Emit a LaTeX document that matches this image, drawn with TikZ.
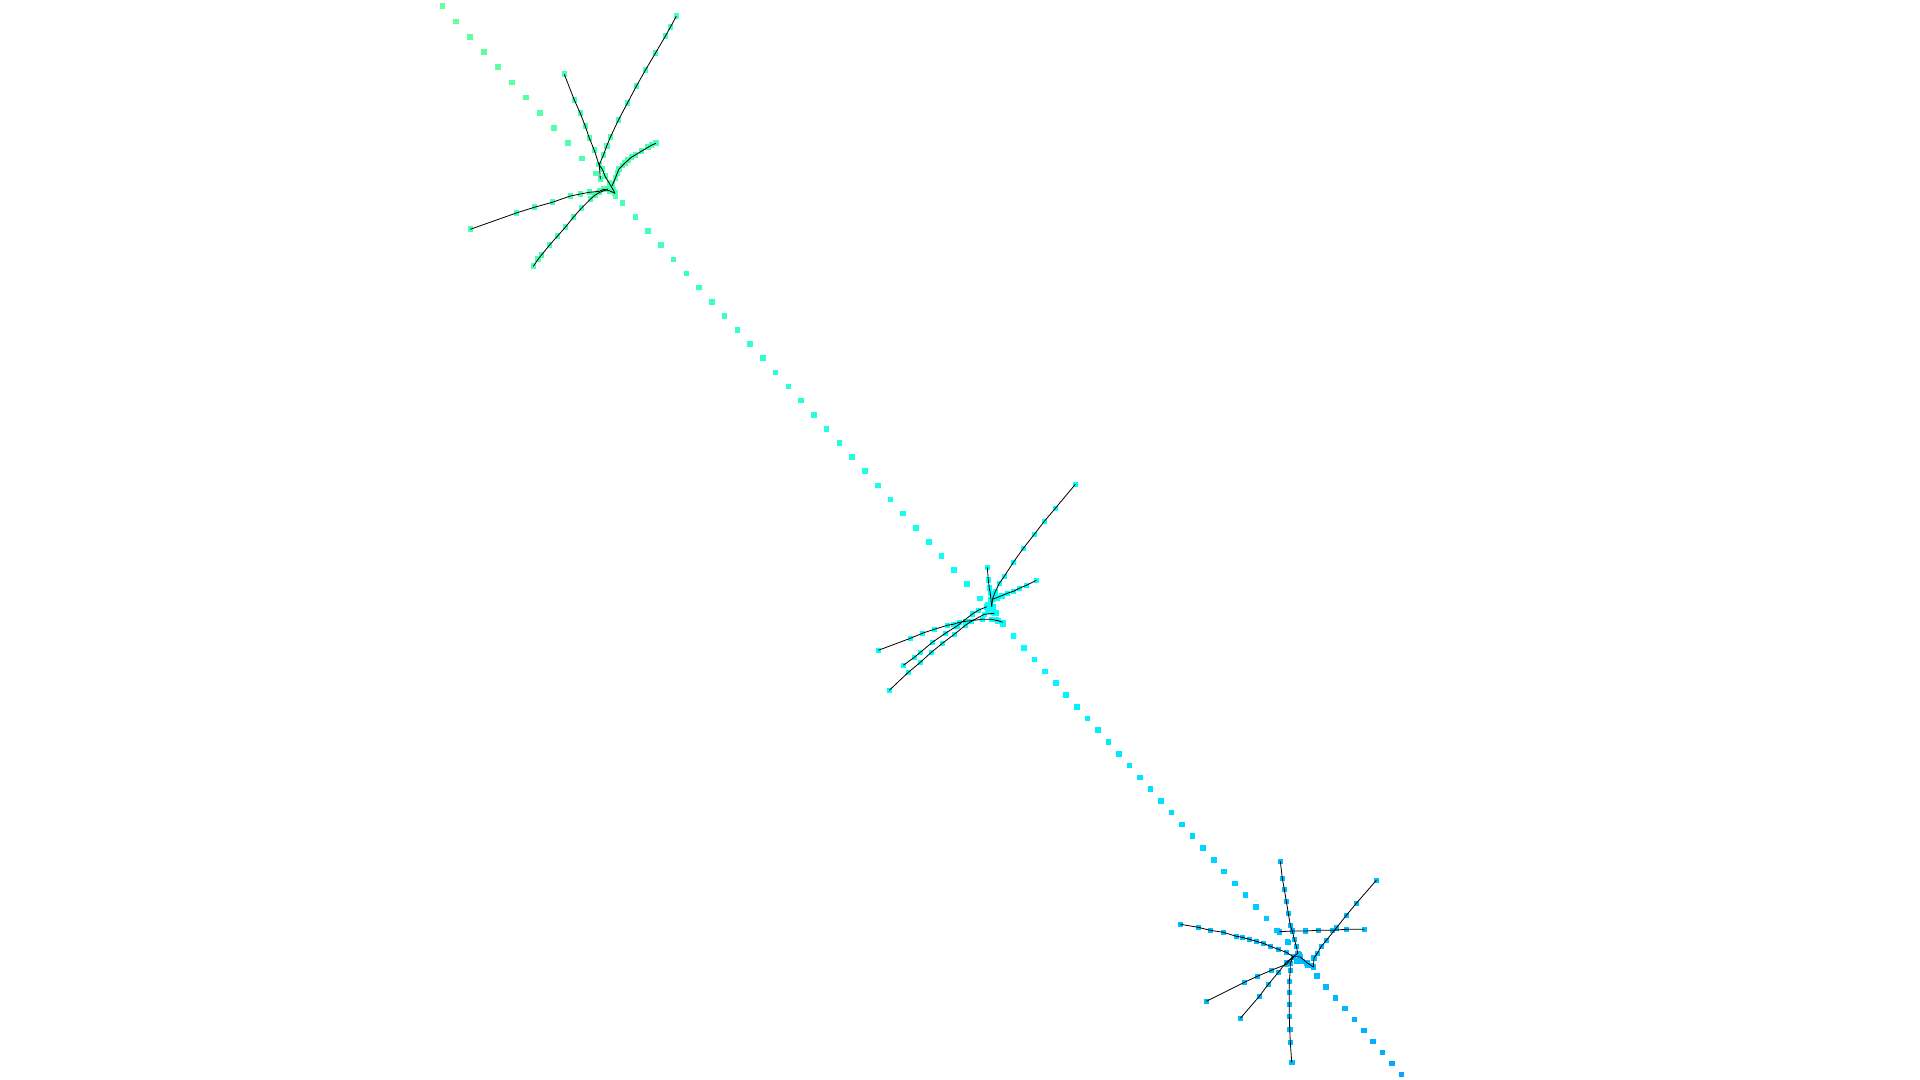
\documentclass[tikz,border=0pt]{standalone}
\usetikzlibrary{calc}
\pgfdeclarelayer{front}
\pgfsetlayers{main,front}

\definecolor{clusterA}{rgb}{0.3,1,0.7}
\definecolor{clusterB}{rgb}{0.02,1,0.98}
\definecolor{clusterC}{rgb}{0,0.74,1}

\newcommand{\branch}[3]{%
  \foreach \p [count=\i] in {#3} {
    \node[dot=#2] (#1-\i) at \p {};
    \xdef\branchlen{\i}
  }
  \begin{pgfonlayer}{front}
    \draw[link] (#1-1.center) \foreach \i in {2,...,\branchlen} { -- (#1-\i.center) };
  \end{pgfonlayer}
}

\begin{document}
\begin{tikzpicture}[x=0.5pt,y=-0.5pt,
  dot/.style={rectangle,fill=#1,inner sep=0pt,minimum size=2.8pt},
  link/.style={draw=black,line width=0.4pt,line join=round}]

  \useasboundingbox[fill=white] (0,0) rectangle (1920,1080);

  \coordinate (P0) at (442.3,6.3);
  \coordinate (P1) at (609.8,188.8);
  \coordinate (P2) at (992.5,612.5);
  \coordinate (P3) at (1298,954);
  \coordinate (P4) at (1401.3,1074.3);

  \definecolor{tc}{rgb}{0.4,1,0.6}
  \node[dot=tc] (t0) at (P0) {};
  \foreach \a/\b/\n/\s in {0/1/12/0, 1/2/30/12, 2/3/29/42, 3/4/11/71} {
    \foreach \k in {1,...,\n} {
      \pgfmathtruncatemacro\idx{\s+\k}
      \pgfmathsetmacro\v{0.475-0.185*\idx/82}
      \pgfmathsetmacro\valR{max(0,4*\v-1.5)}
      \pgfmathsetmacro\valG{min(1,4*\v-0.5)}
      \pgfmathsetmacro\valB{min(1,2.5-4*\v)}
      \definecolor{tc}{rgb}{\valR,\valG,\valB}
      \node[dot=tc] (t\idx) at ($(P\a)!{\k/\n}!(P\b)$) {};
    }
  }

  % first cluster
  \branch{a1}{clusterA}{(676.3,16.3),(670.3,27.3),(665.3,36.3),(655.3,53.3),(645.3,70.3),(636.3,86.3),(627.3,103.3),(618.3,120.3),(610.3,137.3),(606.7,146),(603.3,155.3),(599.3,164.7),(600.3,179.3)}
  \branch{a2}{clusterA}{(564.3,74.3),(574.3,100),(580.3,113.3),(585.3,126.3),(589.3,138),(594.3,150.3),(599,164.7),(602.3,169.3),(605.3,176.7),(609.3,183.3),(613.3,190),(615,193.3)}
  \branch{a3}{clusterA}{(612,186),(615.3,178.3),(617.3,173),(619,169),(622.3,165.7),(625,163),(628,160.3),(631.3,157.3),(635.3,155),(641.3,151.3),(648,147.3),(651.3,145.3),(656,143.3)}
  \branch{a4}{clusterA}{(470.3,229.3),(516.3,213),(534.3,207.3),(552.3,202.3),(570.3,196),(580.3,194),(589.3,192.3),(599.3,191.3),(603.7,189.3),(610,191),(615,193.3)}
  \branch{a5}{clusterA}{(533.3,266.3),(538,259.3),(541.3,255.3),(549.3,245.3),(557.3,236.3),(565.3,227.3),(573.3,217.3),(581.3,208.3),(590.3,199.3),(594.7,195.3),(599,192.7),(608,189)}
  \foreach \p [count=\i] in {(605,176),(612.3,184.3),(605.7,189.7),(615.3,196)}
    \node[dot=clusterA] (a0-\i) at \p {};

  % second cluster
  \branch{b1}{clusterB}{(1075.3,484.3),(1055.3,508.3),(1044.3,521.3),(1034.3,534.3),(1023.3,548.3),(1013.3,562.3),(1004.3,576.3),(999.3,583.3),(995.3,591.7),(992.7,598.3),(991.7,606.7)}
  \branch{b2}{clusterB}{(987.3,567.3),(988.3,580),(989.3,588),(990.3,593.3),(991,600),(991.7,606.7)}
  \branch{b3}{clusterB}{(1036.3,580.3),(1026.3,585.3),(1019.3,588.3),(1013.3,591.3),(1007.3,593.3),(1001.7,595.7),(996.7,597.7),(992.7,599)}
  \branch{b4}{clusterB}{(878.3,650.3),(910.3,638.3),(922.3,633.3),(934.3,629.3),(947.3,625.3),(953.3,624.3),(959.3,622.3),(965.7,621.3),(982.3,619.3),(991.3,619.3),(998,620.7),(1002.7,622.3)}
  \branch{b5}{clusterB}{(903.3,665.3),(914.3,657.3),(920.3,652.3),(932.3,642.3),(945.3,633.3),(957,626),(972.3,614),(978.3,610.3),(986.7,606.7)}
  \branch{b6}{clusterB}{(889.3,690.3),(908.3,672.3),(920.3,662.3),(931.3,652.3),(942.3,643.3),(954.3,634.3),(965.3,625.3),(971.3,621.3),(984.3,614.3),(994.3,613.3)}
  \foreach \p [count=\i] in {(987.7,604.3),(993,606.7),(995.7,612.7),(996.3,619.3),(988,611)}
    \node[dot=clusterB] (b0-\i) at \p {};

  % third cluster
  \branch{c1}{clusterC}{(1293.3,956.7),(1290.3,963.3),(1290.3,970.3),(1289.3,981.3),(1289.3,992.3),(1289.3,1004.3),(1289.3,1016.3),(1289.7,1029.3),(1290.3,1042.3),(1291.7,1062.3)}
  \branch{c2}{clusterC}{(1280.3,861.3),(1282.3,878.3),(1284.3,889.3),(1286.3,901.3),(1288.3,913.3),(1290.3,925.3),(1292.3,931),(1294.3,939.3),(1296.3,946.3),(1297.7,953.3),(1293.3,956.7)}
  \branch{c3}{clusterC}{(1279.3,931.7),(1292.3,931),(1305.3,931),(1318.3,930.3),(1332.3,930.3),(1346.3,929.3),(1364.3,929.3)}
  \branch{c4}{clusterC}{(1376.3,880.3),(1356.3,903.3),(1346.3,915.3),(1336.3,928),(1326.3,940.3),(1321.3,946.3),(1317.3,953.3),(1314,958),(1313.3,967),(1307,962.7),(1300.3,957),(1293.3,956.7)}
  \branch{c5}{clusterC}{(1180.3,924.3),(1198.3,927.3),(1210.3,930.3),(1223.3,932.3),(1236.3,936.3),(1242.3,937.3),(1249.3,939.3),(1256.3,941.3),(1263.3,943.3),(1270.3,946.3),(1278.3,949.3),(1286.3,952.3),(1293.3,956.7)}
  \branch{c6}{clusterC}{(1206.3,1001.3),(1244.3,982.3),(1257.3,976.3),(1271.3,970.3),(1286.3,964.3),(1293.3,956.7)}
  \branch{c7}{clusterC}{(1240.3,1018.3),(1259.3,996.3),(1268.3,984.3),(1278.3,972.3),(1286.3,962.3),(1293.3,956.7)}
  \foreach \p [count=\i] in {(1288.3,942.3),(1299,954.3),(1302.3,961.3),(1310,965.3),(1297,961)}
    \node[dot=clusterC] (c0-\i) at \p {};
\end{tikzpicture}
\end{document}
